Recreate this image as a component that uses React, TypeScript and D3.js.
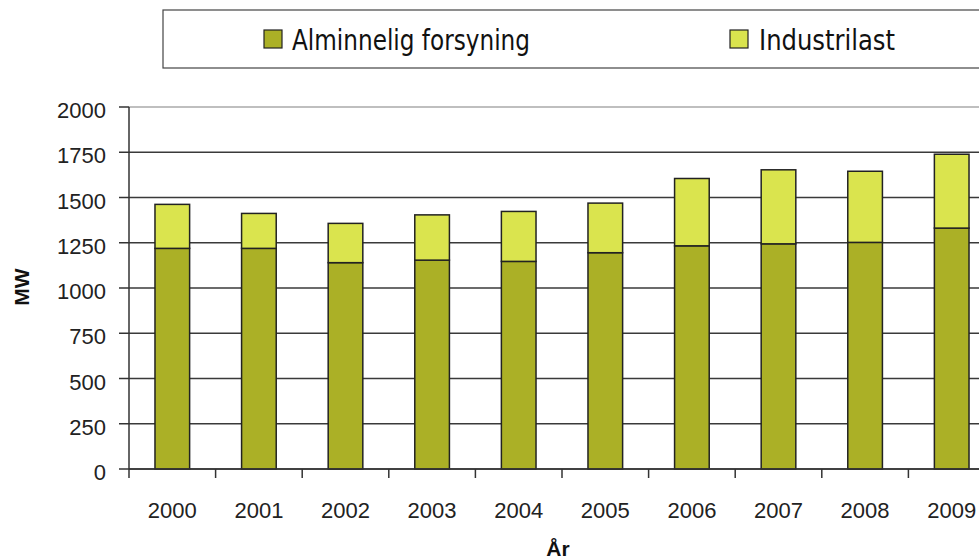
import * as d3 from "d3";

// data
const years = ["2000", "2001", "2002", "2003", "2004", "2005", "2006", "2007", "2008", "2009"];
const alminnelig = [1219, 1219, 1140, 1154, 1147, 1195, 1233, 1244, 1252, 1331];
const industrilast = [243, 193, 217, 250, 276, 274, 372, 409, 393, 408];
const yTicks = [0, 250, 500, 750, 1000, 1250, 1500, 1750, 2000];

const W = 979;
const H = 560;
const left = 129;
const plotRight = 995; // plot runs past the window edge, as in the original
const top = 107;
const bottom = 469;

const darkColor = "#abb026";
const lightColor = "#dae44e";
const tickFont = "'Liberation Sans', Arial, sans-serif";

export default function App() {
  const x = d3
    .scaleBand<string>()
    .domain(years)
    .range([left, plotRight])
    .paddingInner(0.6)
    .paddingOuter(0.3);
  const y = d3.scaleLinear().domain([0, 2000]).range([bottom, top]);
  const step = x.step();

  // stacked values
  const rows = years.map((yr, i) => ({ year: yr, a: alminnelig[i], b: industrilast[i] }));
  const stack = d3.stack<any>().keys(["a", "b"])(rows);
  const colors = [darkColor, lightColor];

  return (
    <svg
      width={W}
      height={H}
      style={{ position: "fixed", left: 0, top: 0, background: "#fff" }}
    >
      {/* legend box */}
      <rect x={163} y={10} width={900} height={58} fill="#fff" stroke="#444" strokeWidth={1.2} />
      <rect x={264} y={30} width={18} height={18} fill={darkColor} stroke="#222" strokeWidth={1.2} />
      <text
        x={292}
        y={50}
        fontFamily="'Liberation Sans Narrow', 'DejaVu Sans Condensed', sans-serif"
        fontSize={29}
        textLength={238}
        lengthAdjust="spacingAndGlyphs"
        fill="#111"
      >
        Alminnelig forsyning
      </text>
      <rect x={730} y={30} width={18} height={18} fill={lightColor} stroke="#222" strokeWidth={1.2} />
      <text
        x={759}
        y={50}
        fontFamily="'Liberation Sans Narrow', 'DejaVu Sans Condensed', sans-serif"
        fontSize={29}
        textLength={136}
        lengthAdjust="spacingAndGlyphs"
        fill="#111"
      >
        Industrilast
      </text>

      {/* gridlines */}
      {yTicks.map((t) => (
        <line
          key={"g" + t}
          x1={left}
          x2={W}
          y1={y(t)}
          y2={y(t)}
          stroke={t === 2000 ? "#aaa" : "#3a3a3a"}
          strokeWidth={1.5}
        />
      ))}

      {/* bars */}
      {stack.map((layer, li) =>
        layer.map((d, i) => (
          <rect
            key={li + "-" + i}
            x={x(years[i])!}
            y={y(d[1])}
            width={x.bandwidth()}
            height={y(d[0]) - y(d[1])}
            fill={colors[li]}
            stroke="#222"
            strokeWidth={1.5}
          />
        ))
      )}

      {/* y axis */}
      <line x1={left} x2={left} y1={top} y2={bottom} stroke="#333" strokeWidth={1.5} />
      {yTicks.map((t) => (
        <g key={"y" + t}>
          <line x1={left - 10} x2={left} y1={y(t)} y2={y(t)} stroke="#333" strokeWidth={1.5} />
          <text
            x={106}
            y={y(t) + 11}
            textAnchor="end"
            fontFamily={tickFont}
            fontSize={22}
            fill="#222"
          >
            {t}
          </text>
        </g>
      ))}

      {/* x axis */}
      <line x1={left} x2={W} y1={bottom} y2={bottom} stroke="#333" strokeWidth={1.5} />
      {years.map((yr, i) => (
        <g key={"x" + yr}>
          <line
            x1={left + i * step}
            x2={left + i * step}
            y1={bottom}
            y2={bottom + 9}
            stroke="#333"
            strokeWidth={1.5}
          />
          <text
            x={x(yr)! + x.bandwidth() / 2}
            y={518}
            textAnchor="middle"
            fontFamily={tickFont}
            fontSize={22}
            fill="#222"
          >
            {yr}
          </text>
        </g>
      ))}

      {/* axis titles */}
      <text
        x={558}
        y={556}
        textAnchor="middle"
        fontFamily={tickFont}
        fontWeight="bold"
        fontSize={21}
        fill="#111"
      >
        År
      </text>
      <text
        transform="translate(29,287) rotate(-90)"
        textAnchor="middle"
        fontFamily={tickFont}
        fontWeight="bold"
        fontSize={21}
        fill="#111"
      >
        MW
      </text>
    </svg>
  );
}
